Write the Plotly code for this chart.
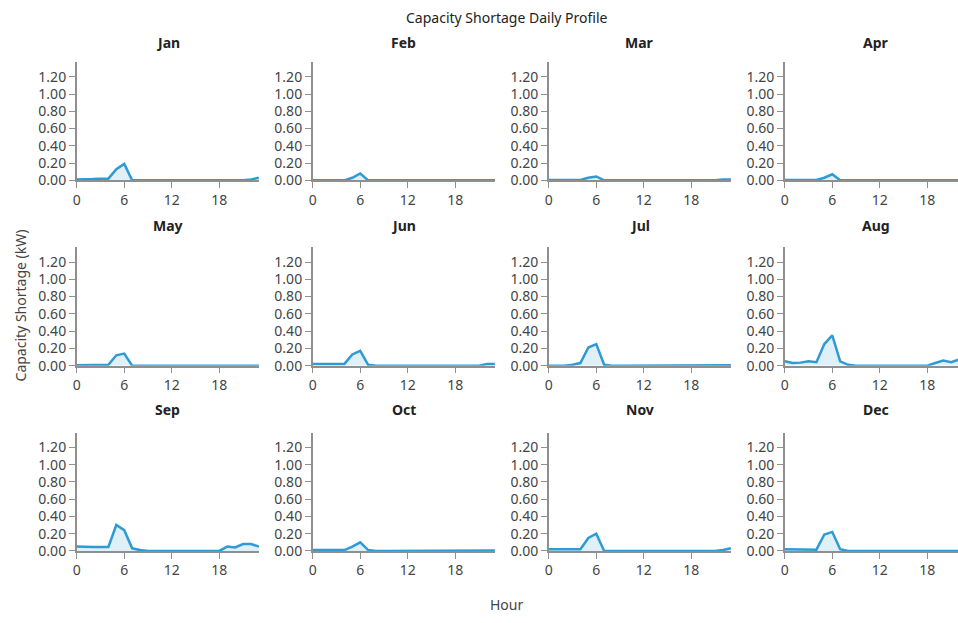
import plotly.graph_objects as go

months = ["Jan", "Feb", "Mar", "Apr", "May", "Jun", "Jul", "Aug", "Sep", "Oct", "Nov", "Dec"]
hours = list(range(24))

jan = [0.01, 0.01, 0.015, 0.02, 0.02, 0.13, 0.19, 0.0, 0, 0, 0, 0, 0, 0, 0, 0, 0, 0, 0, 0, 0, 0, 0.01, 0.03]
feb = [0, 0, 0, 0, 0.0, 0.03, 0.08, 0.0, 0, 0, 0, 0, 0, 0, 0, 0, 0, 0, 0, 0, 0, 0, 0, 0]
mar = [0.005, 0.005, 0.005, 0.005, 0.005, 0.03, 0.045, 0.0, 0, 0, 0, 0, 0, 0, 0, 0, 0, 0, 0, 0, 0, 0, 0.01, 0.01]
apr = [0.005, 0.005, 0.005, 0.005, 0.005, 0.03, 0.07, 0.0, 0, 0, 0, 0, 0, 0, 0, 0, 0, 0, 0, 0, 0, 0, 0, 0]
may = [0.005, 0.005, 0.01, 0.01, 0.01, 0.12, 0.14, 0.0, 0, 0, 0, 0, 0, 0, 0, 0, 0, 0, 0, 0, 0, 0, 0, 0]
jun = [0.02, 0.02, 0.02, 0.02, 0.02, 0.13, 0.17, 0.01, 0, 0, 0, 0, 0, 0, 0, 0, 0, 0, 0, 0, 0, 0.0, 0.02, 0.02]
jul = [0.0, 0.0, 0.0, 0.01, 0.03, 0.21, 0.25, 0.01, 0, 0, 0, 0, 0, 0, 0, 0, 0, 0, 0, 0, 0, 0, 0, 0.005]
aug = [0.05, 0.03, 0.035, 0.05, 0.04, 0.25, 0.35, 0.05, 0.01, 0, 0, 0, 0, 0, 0, 0, 0, 0, 0.0, 0.03, 0.06, 0.04, 0.07, 0.08]
sep = [0.05, 0.045, 0.045, 0.045, 0.045, 0.30, 0.24, 0.03, 0.01, 0, 0, 0, 0, 0, 0, 0, 0, 0, 0.0, 0.05, 0.04, 0.08, 0.08, 0.05]
oct_ = [0.01, 0.01, 0.01, 0.01, 0.01, 0.05, 0.10, 0.01, 0, 0, 0, 0, 0, 0, 0, 0, 0, 0, 0, 0, 0, 0, 0, 0.005]
nov = [0.02, 0.02, 0.02, 0.02, 0.02, 0.15, 0.20, 0.0, 0, 0, 0, 0, 0, 0, 0, 0, 0, 0, 0, 0, 0, 0, 0.01, 0.03]
dec = [0.02, 0.02, 0.018, 0.016, 0.015, 0.19, 0.22, 0.02, 0, 0, 0, 0, 0, 0, 0, 0, 0, 0, 0, 0, 0, 0, 0.0, 0.03]
series = [jan, feb, mar, apr, may, jun, jul, aug, sep, oct_, nov, dec]

x_ticks = [0, 6, 12, 18]
y_ticks = [0.0, 0.2, 0.4, 0.6, 0.8, 1.0, 1.2]

W, H = 958, 623
FONT = "Segoe UI, Noto Sans, sans-serif"
LINE = "#2e9bd6"
FILL = "rgba(46,155,214,0.15)"
AXIS = "#8f8f8f"
TXT = "#444444"

col_left = [73, 310, 547, 784]
plot_w = 183
row_top = [63, 251, 439]
row_title_y = [43, 229, 416]
plot_h = 120
px_per_hour = plot_w / 23.0

fig = go.Figure()
annotations = []
for i, (m, vals) in enumerate(zip(months, series)):
    r, c = divmod(i, 4)
    n = i + 1
    xa = "x" if n == 1 else f"x{n}"
    ya = "y" if n == 1 else f"y{n}"
    x0 = col_left[c]
    x1 = min(x0 + plot_w, W)
    xmax = (x1 - x0) / px_per_hour
    y0p = 1 - (row_top[r] + plot_h) / H
    y1p = 1 - row_top[r] / H
    fig.add_trace(go.Scatter(x=hours, y=vals, mode="lines", fill="tozeroy",
                             line=dict(color=LINE, width=2.5), fillcolor=FILL,
                             xaxis=xa, yaxis=ya, showlegend=False, hoverinfo="x+y"))
    xkey = "xaxis" if n == 1 else f"xaxis{n}"
    ykey = "yaxis" if n == 1 else f"yaxis{n}"
    fig.layout[xkey] = dict(domain=[x0 / W, x1 / W], range=[0, xmax], anchor=ya,
                            tickvals=x_ticks, ticks="outside", ticklen=6, tickcolor=AXIS,
                            showline=True, linecolor=AXIS, linewidth=1.5, showgrid=False,
                            zeroline=False, tickfont=dict(size=14, color=TXT, family=FONT))
    fig.layout[ykey] = dict(domain=[y0p, y1p], range=[0, 1.37], anchor=xa,
                            tickvals=y_ticks, tickformat=".2f", ticks="outside", ticklen=6,
                            tickcolor=AXIS, showline=True, linecolor=AXIS, linewidth=1.5,
                            showgrid=False, zeroline=False,
                            tickfont=dict(size=14, color=TXT, family=FONT))
    annotations.append(dict(text=f"<b>{m}</b>", x=(x0 + plot_w / 2) / W,
                            y=1 - row_title_y[r] / H,
                            xref="paper", yref="paper", showarrow=False,
                            xanchor="center", yanchor="middle",
                            font=dict(size=14, color="#222222", family=FONT)))

annotations.append(dict(text="Capacity Shortage Daily Profile", x=505 / W, y=1 - 18 / H,
                        xref="paper", yref="paper", showarrow=False, xanchor="center",
                        yanchor="middle", font=dict(size=14, color="#222222", family=FONT)))
annotations.append(dict(text="Hour", x=505 / W, y=1 - 613 / H, xref="paper", yref="paper",
                        showarrow=False, xanchor="center", yanchor="middle",
                        font=dict(size=14, color=TXT, family=FONT)))
annotations.append(dict(text="Capacity Shortage (kW)", x=17 / W, y=1 - 310 / H,
                        xref="paper", yref="paper", showarrow=False, textangle=-90,
                        xanchor="center", yanchor="middle",
                        font=dict(size=14, color=TXT, family=FONT)))

fig.update_layout(width=W, height=H, margin=dict(l=0, r=0, t=0, b=0),
                  paper_bgcolor="white", plot_bgcolor="white",
                  annotations=annotations, font=dict(family=FONT))
fig.write_html("out.html", config={"displayModeBar": False},
               post_script="document.body.style.margin='0';document.body.style.overflow='hidden';")
